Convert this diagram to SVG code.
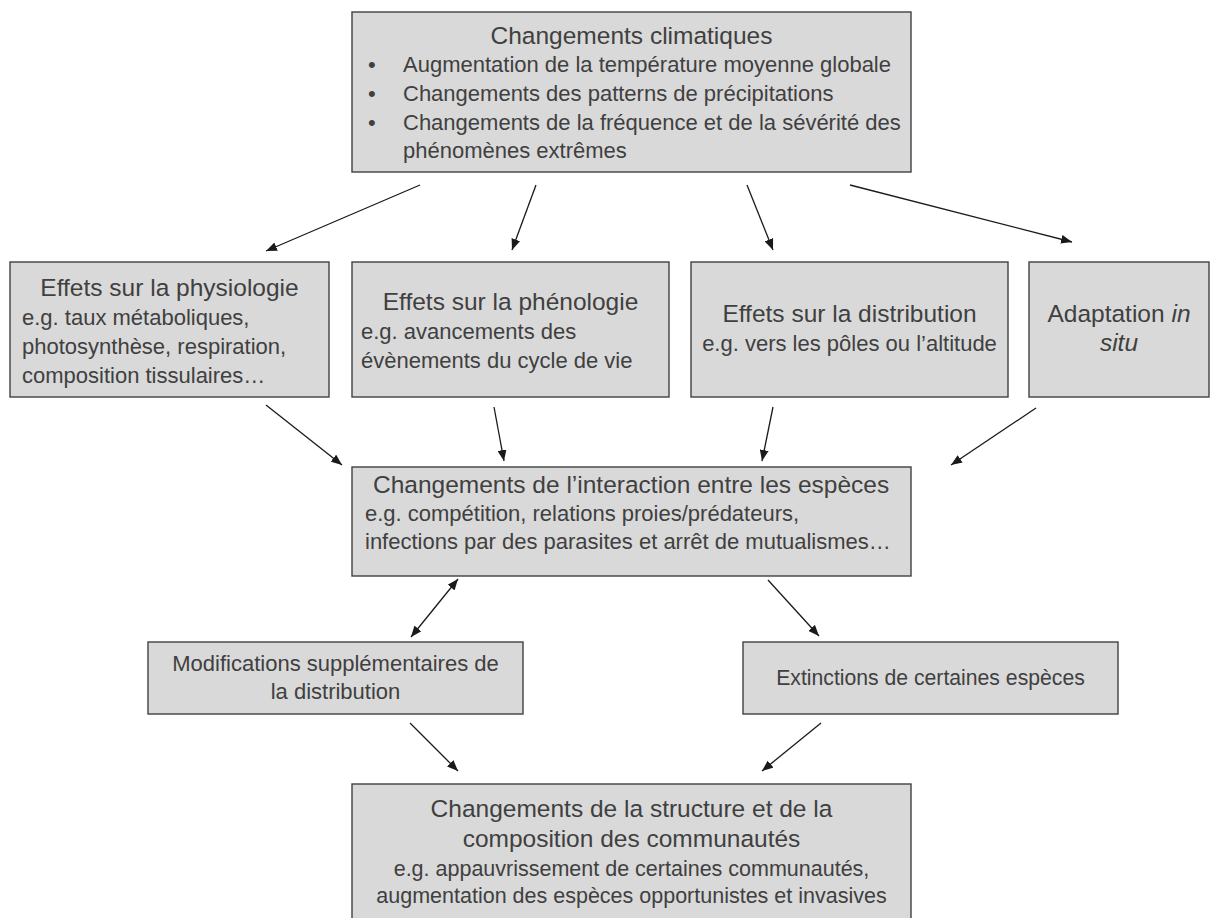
<svg xmlns="http://www.w3.org/2000/svg" width="1213" height="918" viewBox="0 0 1213 918">
<defs>
<style>
.box{fill:#d9d9d9;stroke:#404040;stroke-width:1.4}
text{font-family:'Liberation Sans',Arial,sans-serif;fill:#404040}
.t{font-size:24.5px}
.s{font-size:22px}
.b{font-size:22px}
.c{text-anchor:middle}
.con{stroke:#1a1a1a;stroke-width:1.3;fill:none;marker-end:url(#ah)}
</style>
<marker id="ah" viewBox="0 0 11 9" refX="11" refY="4.5" markerWidth="11" markerHeight="9" markerUnits="userSpaceOnUse" orient="auto-start-reverse">
<path d="M0,0 L11,4.5 L0,9 Z" fill="#1a1a1a"/>
</marker>
</defs>
<rect width="1213" height="918" fill="#ffffff"/>

<g id="climat">
<rect class="box" x="352" y="12" width="559" height="160"/>
<text class="t c" x="631.5" y="44">Changements climatiques</text>
<text class="b" x="368" y="72">•</text>
<text class="b" x="403" y="72">Augmentation de la température moyenne globale</text>
<text class="b" x="368" y="101">•</text>
<text class="b" x="403" y="101">Changements des patterns de précipitations</text>
<text class="b" x="368" y="130">•</text>
<text class="b" x="403" y="130">Changements de la fréquence et de la sévérité des</text>
<text class="b" x="403" y="158">phénomènes extrêmes</text>
</g>

<g id="physiologie">
<rect class="box" x="10" y="262" width="319" height="135"/>
<text class="t c" x="169.5" y="296">Effets sur la physiologie</text>
<text class="s" x="22" y="325">e.g. taux métaboliques,</text>
<text class="s" x="22" y="354">photosynthèse, respiration,</text>
<text class="s" x="22" y="383">composition tissulaires…</text>
</g>

<g id="phenologie">
<rect class="box" x="352" y="262" width="317" height="135"/>
<text class="t c" x="510.5" y="310">Effets sur la phénologie</text>
<text class="s" x="361" y="339">e.g. avancements des</text>
<text class="s" x="361" y="368">évènements du cycle de vie</text>
</g>

<g id="distribution">
<rect class="box" x="691" y="262" width="317" height="135"/>
<text class="t c" x="849.5" y="322">Effets sur la distribution</text>
<text class="s c" x="849.5" y="351">e.g. vers les pôles ou l’altitude</text>
</g>

<g id="adaptation">
<rect class="box" x="1029" y="262" width="180" height="135"/>
<text class="t c" x="1119" y="322">Adaptation <tspan font-style="italic">in</tspan></text>
<text class="t c" x="1119" y="351" font-style="italic">situ</text>
</g>

<g id="interaction">
<rect class="box" x="352" y="467" width="559" height="109"/>
<text class="t" x="373" y="493">Changements de l’interaction entre les espèces</text>
<text class="s" x="365" y="521">e.g. compétition, relations proies/prédateurs,</text>
<text class="s" x="365" y="549">infections par des parasites et arrêt de mutualismes…</text>
</g>

<g id="modifications">
<rect class="box" x="148" y="642" width="375" height="72"/>
<text class="s c" x="335.5" y="671">Modifications supplémentaires de</text>
<text class="s c" x="335.5" y="699">la distribution</text>
</g>

<g id="extinctions">
<rect class="box" x="743" y="642" width="375" height="72"/>
<text class="c" font-size="21.2" x="930.5" y="685">Extinctions de certaines espèces</text>
</g>

<g id="communautes">
<rect class="box" x="352" y="784" width="559" height="150"/>
<text class="t c" x="631.5" y="817">Changements de la structure et de la</text>
<text class="t c" x="631.5" y="847">composition des communautés</text>
<text class="c" font-size="21.5" x="631.5" y="876">e.g. appauvrissement de certaines communautés,</text>
<text class="c" font-size="21.5" x="631.5" y="903">augmentation des espèces opportunistes et invasives</text>
</g>

<g id="connectors">
<line class="con" x1="420" y1="185" x2="266" y2="251"/>
<line class="con" x1="536" y1="185" x2="512" y2="250"/>
<line class="con" x1="747" y1="185" x2="773" y2="250"/>
<line class="con" x1="850" y1="185" x2="1072" y2="242"/>
<line class="con" x1="266" y1="405" x2="342" y2="465"/>
<line class="con" x1="494" y1="407" x2="504" y2="461"/>
<line class="con" x1="773" y1="407" x2="762" y2="461"/>
<line class="con" x1="1036" y1="408" x2="951" y2="465"/>
<line class="con" x1="411" y1="637" x2="458" y2="579" style="marker-start:url(#ah)"/>
<line class="con" x1="768" y1="580" x2="819" y2="636"/>
<line class="con" x1="410" y1="723" x2="458" y2="771"/>
<line class="con" x1="821" y1="723" x2="762" y2="771"/>
</g>
</svg>
